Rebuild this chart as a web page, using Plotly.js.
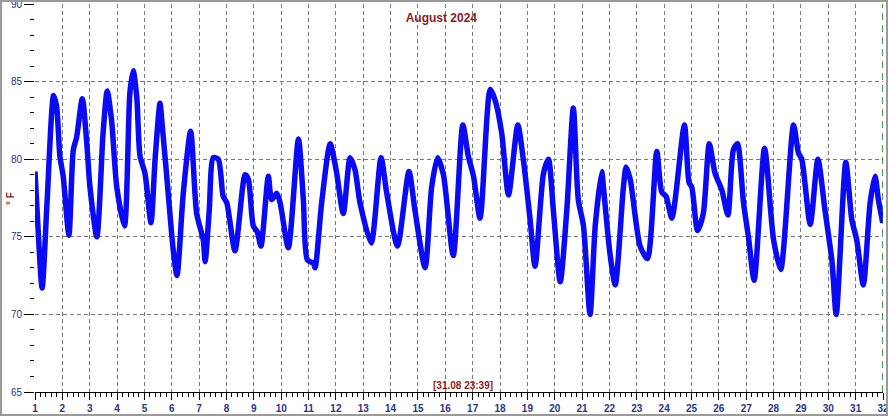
<!DOCTYPE html>
<html>
<head>
<meta charset="utf-8">
<script src="https://cdn.plot.ly/plotly-3.0.1.min.js"></script>
<style>
  html, body { margin: 0; padding: 0; background: #fff; overflow: hidden; }
  #wrap { position: relative; width: 888px; height: 416px; overflow: hidden; }
  #chart { width: 888px; height: 416px; }
  #frame { position: absolute; left: 0; top: 0; width: 888px; height: 416px; box-sizing: border-box; border: 2px solid #9a9a9a; pointer-events: none; }
</style>
</head>
<body>
<div id="wrap"><div id="chart"></div><div id="frame"></div></div>
<script>
// Day of month (fractional) of each reading
const days = [1.00, 1.07, 1.26, 1.44, 1.68, 1.79, 1.91, 2.03, 2.24, 2.40, 2.52, 2.73, 2.89, 3.01, 3.26, 3.49, 3.64, 3.80, 3.99,
  4.27, 4.47, 4.59, 4.72, 4.84, 5.02, 5.24, 5.39, 5.57, 5.64, 5.86, 6.05, 6.19, 6.42, 6.69, 6.91, 7.15, 7.22, 7.37, 7.52,
  7.70, 7.88, 8.01, 8.31, 8.68, 8.80, 8.98, 9.13, 9.26, 9.53, 9.65, 9.84, 9.96, 10.26, 10.63, 10.81, 10.96, 11.18, 11.24,
  11.48, 11.79, 12.01, 12.27, 12.52, 12.70, 12.88, 13.29, 13.65, 13.86, 14.25, 14.67, 14.89, 15.26, 15.50, 15.72, 15.93,
  16.29, 16.64, 16.84, 17.03, 17.27, 17.64, 17.82, 18.06, 18.31, 18.65, 18.85, 19.10, 19.28, 19.59, 19.77, 19.95, 20.20,
  20.44, 20.68, 20.86, 21.05, 21.29, 21.48, 21.72, 21.78, 22.02, 22.21, 22.51, 22.61, 22.76, 23.12, 23.39, 23.73, 23.91,
  24.07, 24.28, 24.74, 24.91, 25.01, 25.22, 25.43, 25.65, 25.86, 26.11, 26.33, 26.53, 26.68, 26.90, 27.08, 27.29, 27.67,
  28.00, 28.26, 28.73, 28.91, 29.03, 29.34, 29.62, 29.88, 30.13, 30.29, 30.64, 30.86, 31.04, 31.28, 31.53, 31.71, 31.83, 31.99];
// Temperature (°F)
const tempF = [79.2, 76.9, 71.7, 77.2, 84.1, 83.4, 80.2, 78.9, 75.1, 80.6, 81.4, 83.9, 81.1, 78.2, 75.0, 81.7, 84.4, 82.5, 78.2,
  75.7, 84.3, 85.7, 84.0, 80.2, 79.1, 75.9, 80.0, 83.6, 82.4, 78.0, 74.2, 72.5, 77.8, 81.8, 76.5, 74.8, 73.4, 76.7, 80.1,
  80.0, 77.6, 77.2, 74.1, 79.0, 78.7, 75.7, 75.3, 74.4, 78.9, 77.4, 77.8, 77.2, 74.3, 81.3, 77.4, 73.5, 73.3, 73.0,
  77.2, 81.0, 79.3, 76.5, 80.1, 79.3, 77.2, 74.6, 80.1, 77.8, 74.4, 79.2, 76.7, 73.0, 78.2, 80.1, 79.0,
  73.8, 82.2, 80.2, 78.9, 76.2, 84.5, 83.8, 81.7, 77.7, 82.2, 80.0, 76.1, 73.1, 79.1, 80.0, 76.7, 72.1,
  76.7, 83.3, 77.4, 75.7, 70.0, 75.7, 79.2, 78.2, 73.9, 71.9, 78.2, 79.5, 78.7, 74.4, 73.6, 80.5, 77.9,
  77.6, 76.2, 82.2, 78.5, 78.2, 75.4, 76.5, 81.0, 79.1, 78.0, 76.4, 80.6, 81.0, 77.2, 75.0, 72.2, 80.7,
  74.8, 72.9, 82.2, 80.4, 80.0, 75.8, 80.0, 76.7, 73.5, 70.0, 79.8, 76.1, 74.8, 71.9, 77.2, 78.9, 77.4, 75.9];

const dayTicks = [1, 2, 3, 4, 5, 6, 7, 8, 9, 10, 11, 12, 13, 14, 15, 16, 17, 18, 19, 20, 21, 22, 23, 24, 25, 26, 27, 28, 29, 30, 31, 32];
const dayGrid = [2, 3, 4, 5, 6, 7, 8, 9, 10, 11, 12, 13, 14, 15, 16, 17, 18, 19, 20, 21, 22, 23, 24, 25, 26, 27, 28, 29, 30, 31];
const tempTicks = [65, 70, 75, 80, 85, 90];
const tempGrid = [70, 75, 80, 85];
const lastReading = '[31.08 23:39]';
const chartTitle = 'August 2024';

const labelColor = '#2a338a';
const darkRed = '#8b1c1c';
const font = 'Arial, "Liberation Sans", sans-serif';

const traces = [
  { x: [dayTicks[0]], y: [tempTicks[0]], xaxis: 'x', yaxis: 'y', mode: 'lines', line: { width: 0 }, hoverinfo: 'skip', showlegend: false },
  { x: days, y: tempF, xaxis: 'x2', yaxis: 'y2', mode: 'lines',
    line: { color: '#0a0af5', width: 5.5, shape: 'spline', smoothing: 0.7 }, showlegend: false }
];

const layout = {
  width: 888, height: 416,
  margin: { l: 35, r: 5, t: 4, b: 24 },
  paper_bgcolor: '#ffffff', plot_bgcolor: '#ffffff',
  showlegend: false,
  title: { text: '<b>' + chartTitle + '</b>', font: { family: font, size: 12, color: darkRed },
           xref: 'container', x: 0.497, xanchor: 'center', yref: 'container', y: 0.958, yanchor: 'middle' },
  xaxis: {
    range: [1, 32], tickvals: dayTicks, ticktext: dayTicks.map(String),
    ticks: 'outside', ticklen: 7, tickwidth: 1, tickcolor: '#000',
    showline: true, linecolor: '#000', linewidth: 1,
    showgrid: false, zeroline: false, ticklabeloverflow: 'allow',
    tickfont: { family: font, size: 10, color: labelColor, weight: 'bold' },
    minor: { dtick: 0.2, tick0: 1, ticks: 'outside', ticklen: 4, tickcolor: '#000', showgrid: false }
  },
  yaxis: {
    range: [65, 90], tickvals: tempTicks,
    ticks: 'outside', ticklen: 10, tickwidth: 1, tickcolor: '#000',
    showline: false, showgrid: false, zeroline: false, ticklabeloverflow: 'allow',
    tickfont: { family: font, size: 10, color: labelColor },
    minor: { dtick: 1, tick0: 65, ticks: 'outside', ticklen: 4, tickcolor: '#000', showgrid: false }
  },
  xaxis2: {
    overlaying: 'x', anchor: 'y2', range: [1, 32], tickvals: dayGrid,
    showticklabels: false, ticks: '', showline: false, zeroline: false,
    showgrid: true, gridcolor: '#7a7a7a', gridwidth: 1, griddash: '4px,3px'
  },
  yaxis2: {
    overlaying: 'y', anchor: 'x2', range: [65, 90], tickvals: tempGrid,
    showticklabels: false, ticks: '', showline: false, zeroline: false,
    showgrid: true, gridcolor: '#7a7a7a', gridwidth: 1, griddash: '4px,3px'
  },
  shapes: [
    { type: 'line', xref: 'x', yref: 'paper', x0: dayTicks[dayTicks.length - 1], x1: dayTicks[dayTicks.length - 1], y0: 0, y1: 1,
      line: { color: '#137a13', width: 1.5, dash: '7px,5px' }, layer: 'above' }
  ],
  annotations: [
    { text: '<b>° F</b>', xref: 'paper', yref: 'paper', x: -0.0295, y: 0.5, xanchor: 'center', yanchor: 'middle',
      textangle: -90, showarrow: false, font: { family: font, size: 10, color: darkRed } },
    { text: '<b>' + lastReading + '</b>', xref: 'paper', yref: 'paper', x: (463 - 35) / 848, y: 0.018,
      xanchor: 'center', yanchor: 'middle', showarrow: false, font: { family: font, size: 10, color: darkRed } }
  ]
};

Plotly.newPlot('chart', traces, layout, { displayModeBar: false, staticPlot: true });
</script>
</body>
</html>
